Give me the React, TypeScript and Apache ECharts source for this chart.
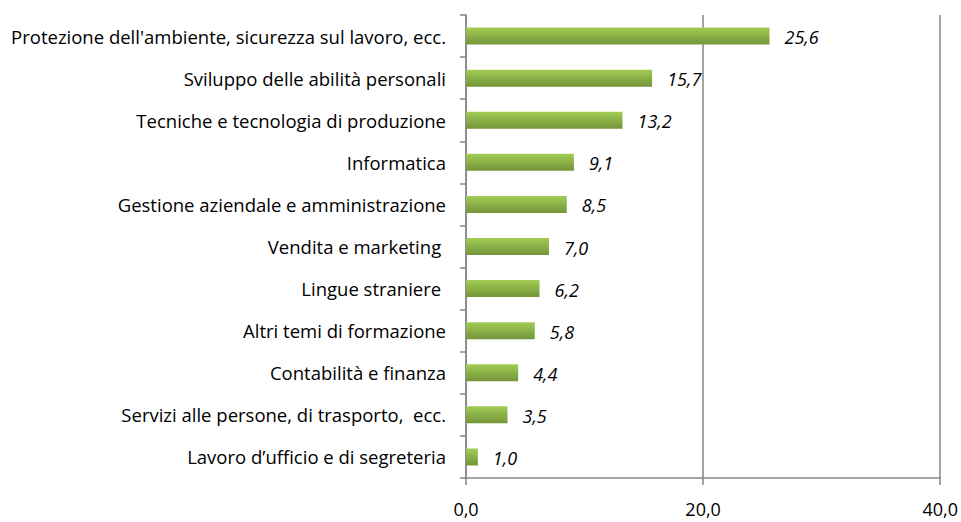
import React, { useEffect, useRef } from "react";
import * as echarts from "echarts";

const categories = [
  "Protezione dell'ambiente, sicurezza sul lavoro, ecc.",
  "Sviluppo delle abilità personali",
  "Tecniche e tecnologia di produzione",
  "Informatica",
  "Gestione aziendale e amministrazione",
  "Vendita e marketing ",
  "Lingue straniere ",
  "Altri temi di formazione",
  "Contabilità e finanza",
  "Servizi alle persone, di trasporto,  ecc.",
  "Lavoro d\u2019ufficio e di segreteria",
];
const values = [25.6, 15.7, 13.2, 9.1, 8.5, 7.0, 6.2, 5.8, 4.4, 3.5, 1.0];

const fmt = (v: number) => v.toFixed(1).replace(".", ",");

export default function App() {
  const ref = useRef<HTMLDivElement>(null);
  useEffect(() => {
    if (!ref.current) return;
    const chart = echarts.init(ref.current, undefined, { renderer: "svg" });
    const font = "'Open Sans', sans-serif";
    chart.setOption({
      animation: false,
      grid: { left: 466, right: 19, top: 15, bottom: 44, containLabel: false },
      xAxis: {
        type: "value",
        min: 0,
        max: 40,
        interval: 20,
        axisLine: { show: true, lineStyle: { color: "#868686", width: 1.5 } },
        axisTick: { show: true, length: 7, lineStyle: { color: "#868686", width: 1.5 } },
        splitLine: { show: true, lineStyle: { color: "#868686", width: 1.5 } },
        axisLabel: {
          formatter: (v: number) => fmt(v),
          color: "#000",
          fontSize: 18,
          fontFamily: font,
          margin: 22,
        },
      },
      yAxis: {
        type: "category",
        data: categories,
        inverse: true,
        axisLine: { show: true, lineStyle: { color: "#868686", width: 1.5 } },
        axisTick: { show: true, length: 6, lineStyle: { color: "#868686", width: 1.5 } },
        axisLabel: {
          color: "#000",
          fontSize: 18.5,
          fontFamily: font,
          margin: 20,
        },
      },
      series: [
        {
          type: "bar",
          data: values,
          barWidth: 17,
          itemStyle: {
            color: new echarts.graphic.LinearGradient(0, 0, 0, 1, [
              { offset: 0, color: "#a2cc55" },
              { offset: 1, color: "#73953a" },
            ]),
          },
          label: {
            show: true,
            position: "right",
            distance: 15,
            offset: [0, 1],
            formatter: (p: any) => fmt(p.value),
            fontStyle: "italic",
            fontSize: 18,
            fontFamily: font,
            color: "#000",
          },
        },
      ],
    });
    return () => chart.dispose();
  }, []);
  return <div ref={ref} style={{ width: 961, height: 522, position: "absolute", left: 0, top: 0 }} />;
}
